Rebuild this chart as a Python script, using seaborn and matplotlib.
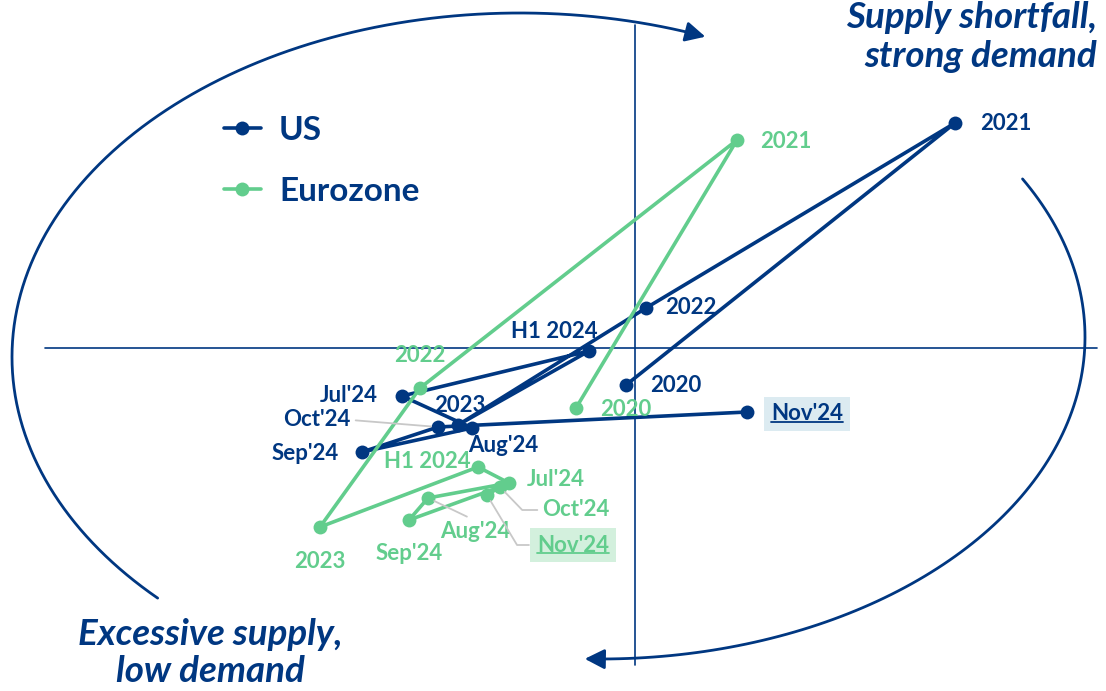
import numpy as np
import pandas as pd
import seaborn as sns
import matplotlib.pyplot as plt
from matplotlib.lines import Line2D
from matplotlib.patches import FancyArrowPatch
from matplotlib.path import Path

# values (x: supply shortfall, y: demand)
periods = ["2020", "2021", "2022", "2023", "H1 2024",
           "Jul'24", "Aug'24", "Sep'24", "Oct'24", "Nov'24"]
us_supply = [-0.09, 3.20, 0.11, -1.77, -0.46, -2.33, -1.63, -2.73, -1.97, 1.12]
us_demand = [-0.37, 2.25, 0.40, -0.77, -0.03, -0.48, -0.80, -1.04, -0.79, -0.64]
ez_supply = [-0.59, 1.02, -2.15, -3.15, -1.57, -1.26, -2.07, -2.26, -1.35, -1.48]
ez_demand = [-0.60, 2.08, -0.40, -1.79, -1.19, -1.35, -1.50, -1.72, -1.39, -1.47]
regions = ["US", "Eurozone"]

BLUE = "#003781"
GREEN = "#62cd8d"
GREY = "#c8c8c8"

df = pd.concat([
    pd.DataFrame({"region": "US", "period": periods, "supply": us_supply, "demand": us_demand}),
    pd.DataFrame({"region": "Eurozone", "period": periods, "supply": ez_supply, "demand": ez_demand}),
], ignore_index=True)

sns.set_style("white")
plt.rcParams["font.family"] = ["Lato", "DejaVu Sans"]

fig = plt.figure(figsize=(11.06, 6.91), dpi=100)
ax = fig.add_axes([0, 0, 1, 1])
ax.set_xlim(-6.35, 4.71)
ax.set_ylim(-3.43, 3.48)
ax.axis("off")

# quadrant cross
ax.axhline(0, xmin=45 / 1106, xmax=1097 / 1106, color=BLUE, lw=1.2, zorder=1)
ax.axvline(0, ymin=26 / 691, ymax=666 / 691, color=BLUE, lw=1.2, zorder=1)

sns.lineplot(data=df, x="supply", y="demand", hue="region", hue_order=regions,
             palette={"US": BLUE, "Eurozone": GREEN}, sort=False, estimator=None,
             marker="o", markersize=10, markeredgewidth=0, linewidth=2.6,
             legend=False, ax=ax, zorder=3)


# cycle arrows around the chart
def arc(cx, cy, a, b, t0, t1):
    t = np.radians(np.linspace(t0, t1, 120))
    pts = np.column_stack([cx + a * np.cos(t), cy + b * np.sin(t)])
    p = FancyArrowPatch(path=Path(pts), arrowstyle="-|>,head_length=0.75,head_width=0.38",
                        mutation_scale=16, color=BLUE, lw=2.0, zorder=2)
    ax.add_patch(p)


arc(-1.15, -0.09, 5.08, 3.44, 224.5, 68.6)
arc(-0.35, 0.11, 4.85, 3.22, 29.4, -91.8)

# point labels: (dx, dy) in pixels, alignment
us_lab = {
    "2020": (24, 0, "left"), "2021": (25, 0, "left"), "2022": (19, 0, "left"),
    "2023": (2, 20, "center"), "H1 2024": (9, 20, "right"), "Jul'24": (-24, 0, "right"),
    "Aug'24": (31, -18, "center"), "Sep'24": (-23, -2, "right"),
    "Oct'24": (-87, 7, "right"), "Nov'24": (24, -2, "left"),
}
ez_lab = {
    "2020": (24, -1, "left"), "2021": (23, -1, "left"), "2022": (0, 32, "center"),
    "2023": (0, -34, "center"), "H1 2024": (-7, 5, "right"), "Jul'24": (18, 3, "left"),
    "Aug'24": (47, -33, "center"), "Sep'24": (0, -33, "center"),
    "Oct'24": (42, -23, "left"), "Nov'24": (50, -50, "left"),
}
leaders = {
    ("US", "Oct'24"): dict(relpos=(1, 0.5), connectionstyle="arc3"),
    ("Eurozone", "Aug'24"): dict(relpos=(0.5, 1), connectionstyle="arc3"),
    ("Eurozone", "Oct'24"): dict(relpos=(0, 0.5), connectionstyle="angle,angleA=0,angleB=-46,rad=0"),
    ("Eurozone", "Nov'24"): dict(relpos=(0, 0.5), connectionstyle="angle,angleA=0,angleB=-59,rad=0"),
}
boxes = {"US": "#dcebf1", "Eurozone": "#d3f0dd"}

underlined = []
for region, labs, col in [("US", us_lab, BLUE), ("Eurozone", ez_lab, GREEN)]:
    sub = df[df["region"] == region]
    for _, row in sub.iterrows():
        dx, dy, ha = labs[row["period"]]
        kw = {}
        key = (region, row["period"])
        if key in leaders:
            kw["arrowprops"] = dict(arrowstyle="-", color=GREY, lw=1.3, shrinkA=1, shrinkB=5,
                                    **leaders[key])
        if row["period"] == "Nov'24":
            kw["bbox"] = dict(boxstyle="square,pad=0.3", fc=boxes[region], ec="none")
        t = ax.annotate(row["period"], (row["supply"], row["demand"]), xytext=(dx, dy),
                        textcoords="offset pixels", ha=ha, va="center", color=col,
                        fontsize=16, fontweight="bold", zorder=4, **kw)
        if row["period"] == "Nov'24":
            underlined.append((t, col))

# legend
handles = [Line2D([], [], color=BLUE, marker="o", markersize=10, lw=2.6, markeredgewidth=0),
           Line2D([], [], color=GREEN, marker="o", markersize=10, lw=2.6, markeredgewidth=0)]
ax.legend(handles, regions, loc="upper left", bbox_to_anchor=(224 / 1106, 1 - 116 / 691),
          frameon=False, labelcolor=BLUE, handlelength=1.1,
          handletextpad=0.55, labelspacing=0.95, borderpad=0, borderaxespad=0,
          prop={"weight": "bold", "size": 24})

# quadrant captions
ax.text(0.992, 0.998, "Supply shortfall,\nstrong demand", transform=ax.transAxes,
        ha="right", va="top", color=BLUE, fontsize=26.5, style="italic",
        fontweight="bold", linespacing=1.2)
ax.text(210 / 1106, 0.004, "Excessive supply,\nlow demand", transform=ax.transAxes,
        ha="center", va="bottom", color=BLUE, fontsize=26.5, style="italic",
        fontweight="bold", linespacing=1.15)

# underline the latest readings
fig.canvas.draw()
r = fig.canvas.get_renderer()
inv = ax.transData.inverted()
for t, col in underlined:
    bb = plt.Text.get_window_extent(t, r)
    (x0, y0), (x1, _) = inv.transform([(bb.x0, bb.y0 + 3), (bb.x1, bb.y0 + 3)])
    ax.plot([x0, x1], [y0, y0], color=col, lw=1.3, zorder=5)

fig.savefig("out.png", dpi=100)
